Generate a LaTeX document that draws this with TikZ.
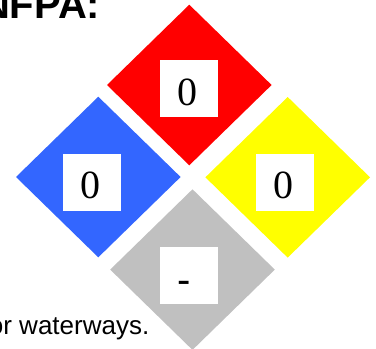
\documentclass[tikz,border=0pt]{standalone}
\usepackage{fontspec}
\setmainfont{Liberation Serif}
\newfontfamily\arialfont{Liberation Sans}
\definecolor{nfpared}{RGB}{255,0,0}
\definecolor{nfpablue}{RGB}{51,102,255}
\definecolor{nfpayellow}{RGB}{255,255,0}
\definecolor{nfpagray}{RGB}{192,192,192}
\tikzset{
  valbox/.style={fill=white, minimum width=58pt, minimum height=57pt, inner sep=0pt},
  valtext/.style={anchor=base, inner sep=0pt, font=\fontsize{40}{40}\selectfont},
}

\begin{document}
\begin{tikzpicture}[x=1pt, y=-1pt]
  \useasboundingbox (0,0) rectangle (376,349);
  % the four diamonds
  \fill [nfpared] (189.3,4.7) -- (271.6,85) -- (189.3,165.3) -- (107,85) -- cycle;
  \fill [nfpablue] (98.3,96.7) -- (180.6,177) -- (98.3,257.3) -- (16,177) -- cycle;
  \fill [nfpayellow] (287.7,97) -- (370,177.3) -- (287.7,257.6) -- (205.4,177.3) -- cycle;
  \fill [nfpagray] (192.5,189.3) -- (274.8,269.6) -- (192.5,349.9) -- (110.2,269.6) -- cycle;
  % value boxes
  \node (redbox) at (189.2,88.4) [valbox] {};
  \node (bluebox) at (91.8,182.3) [valbox] {};
  \node (yellowbox) at (284.8,182.3) [valbox] {};
  \node (graybox) at (189.2,275.3) [valbox] {};
  \node (redval) at (187.7,105) [valtext] {0};
  \node (blueval) at (90.5,198.3) [valtext] {0};
  \node (yellowval) at (283.2,198.3) [valtext] {0};
  \node (grayval) at (184,293) [valtext, font=\arialfont\fontsize{40}{40}\selectfont] {-};
  % texts
  \node (title) at (100.5,18) [anchor=base east, inner sep=0pt, font=\arialfont\bfseries\fontsize{40}{40}\selectfont] {NFPA:};
  \node (note) at (149.5,334.3) [anchor=base east, inner sep=0pt, font=\arialfont\fontsize{26}{26}\selectfont] {or waterways.};
\end{tikzpicture}
\end{document}
